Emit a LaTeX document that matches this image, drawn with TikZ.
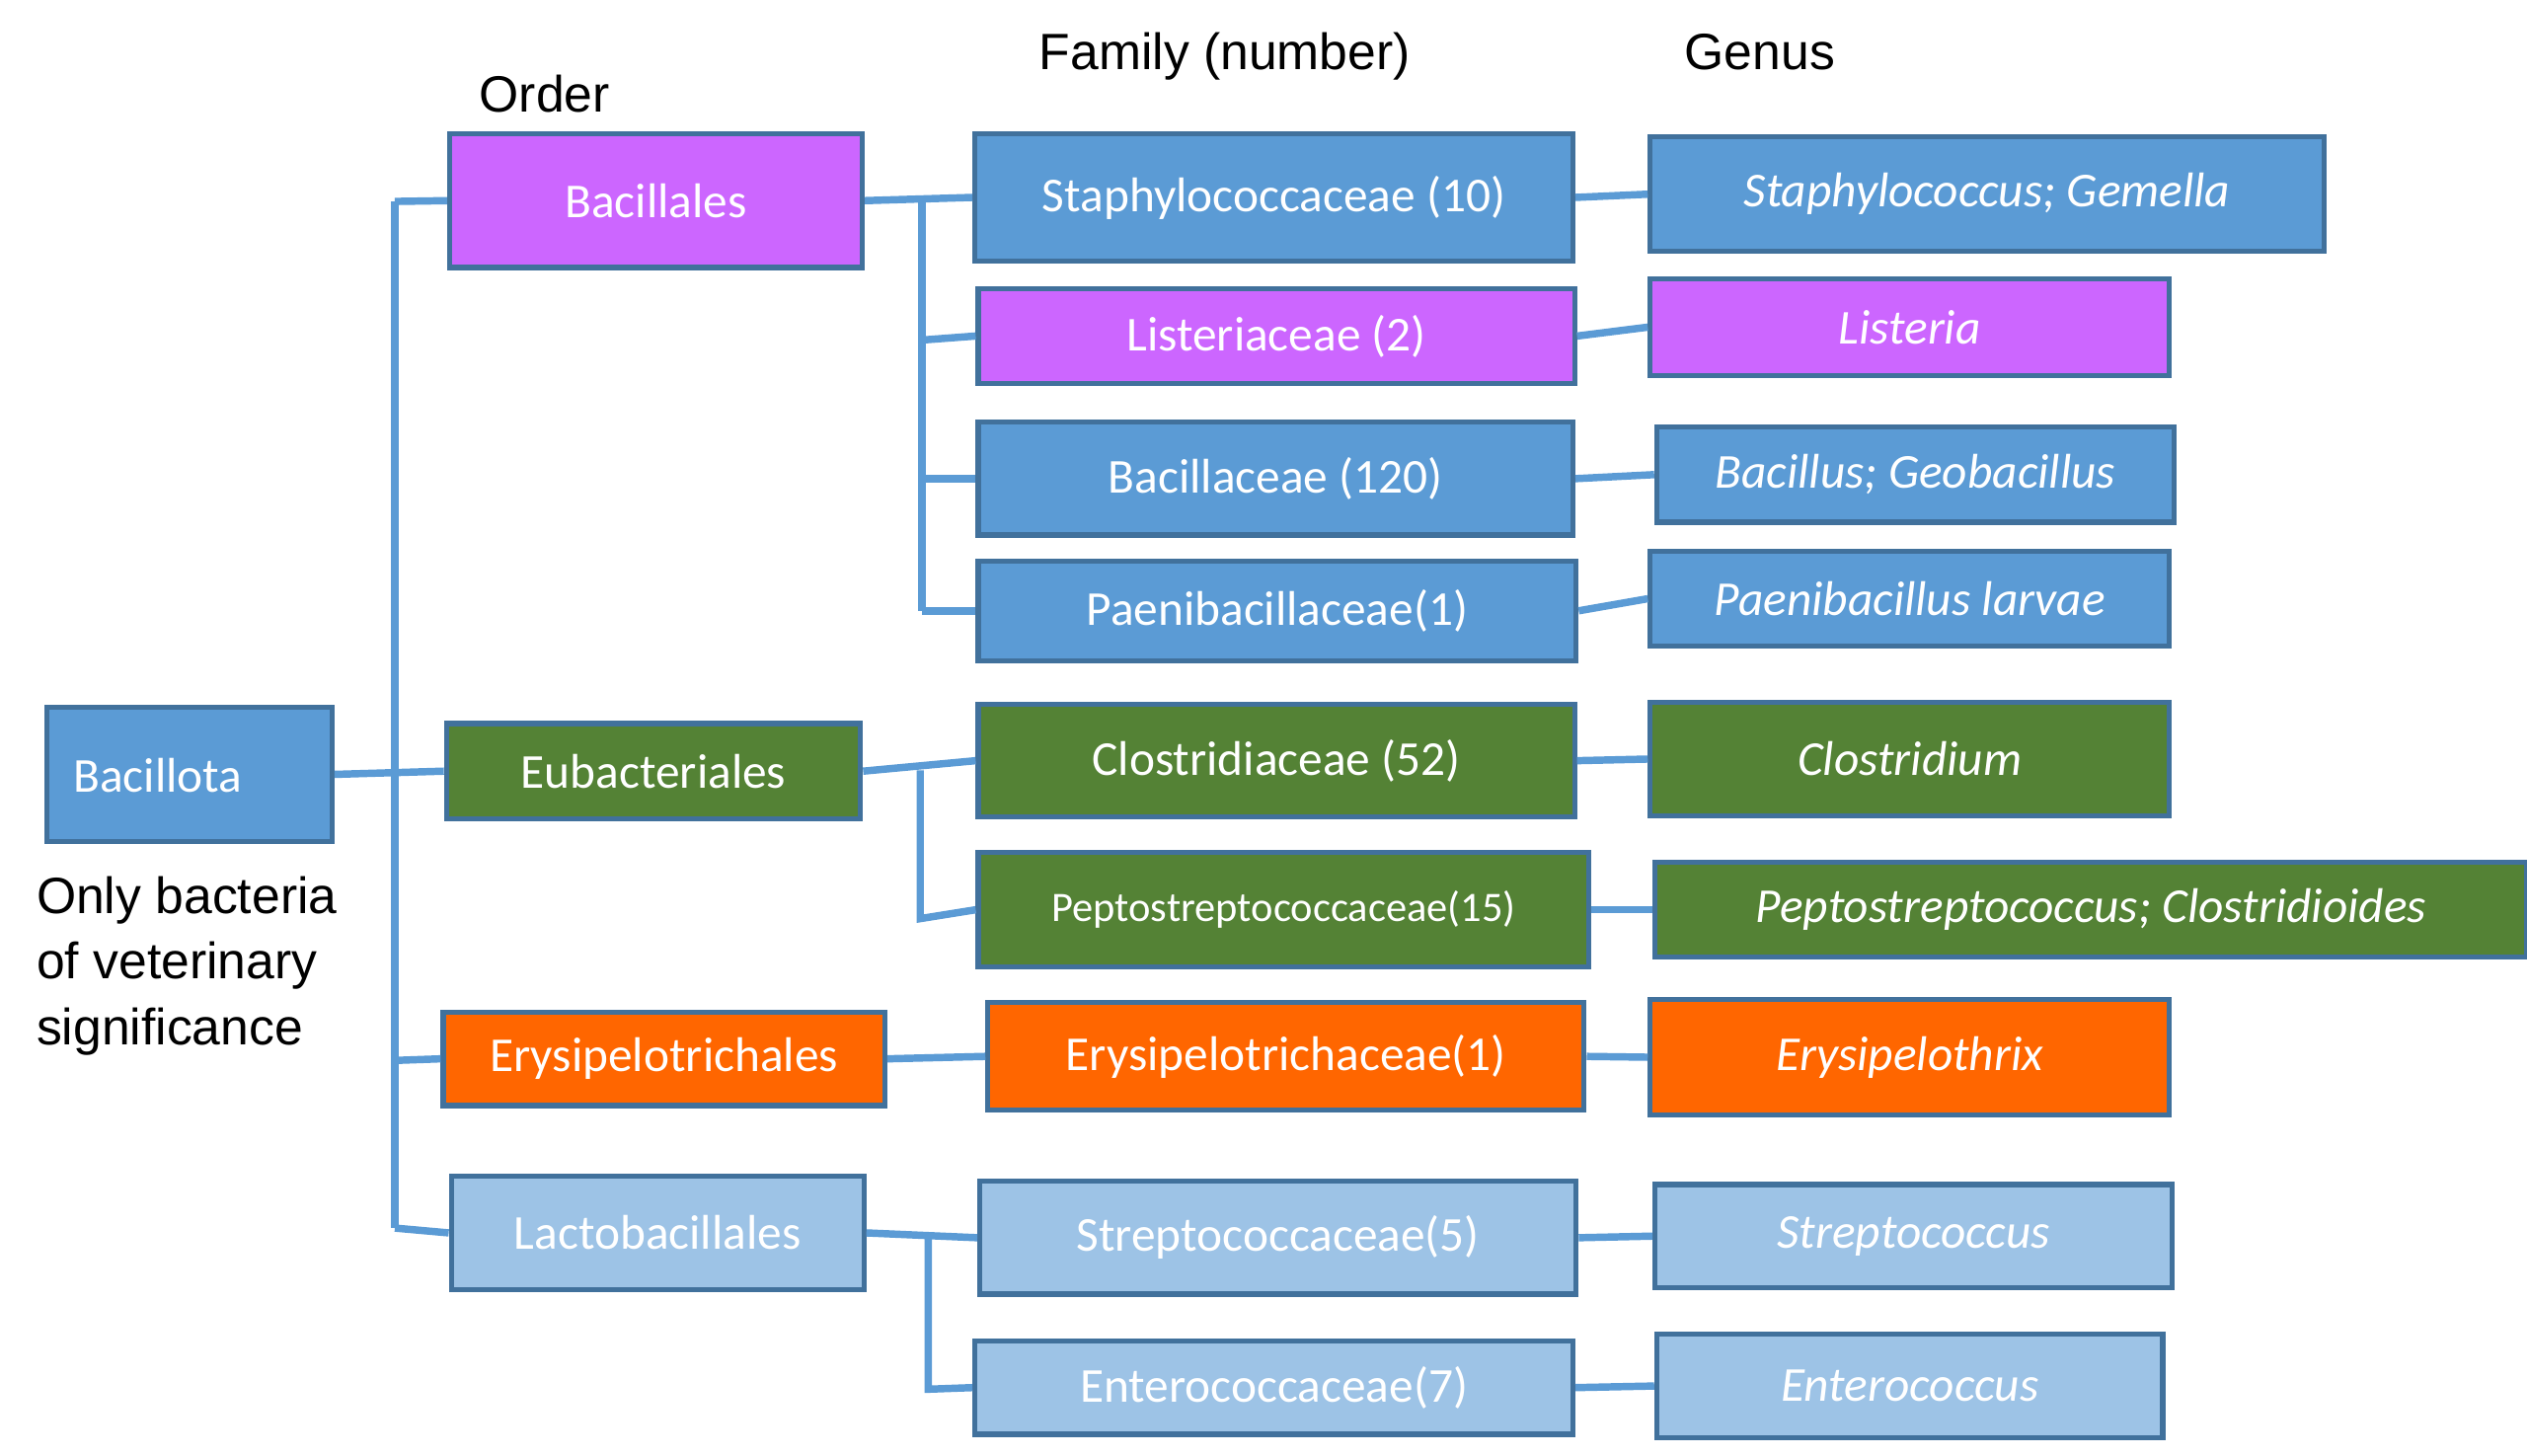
\documentclass[tikz,border=0pt]{standalone}
\usepackage{fontspec}
\setmainfont{Carlito}
\newfontfamily\arialf{Liberation Sans}
\definecolor{cblue}{HTML}{5B9BD5}
\definecolor{cbord}{HTML}{41719C}
\definecolor{cpurp}{HTML}{CC66FF}
\definecolor{cgreen}{HTML}{548235}
\definecolor{corange}{HTML}{FF6600}
\definecolor{clight}{HTML}{9DC3E6}
\begin{document}
\begin{tikzpicture}[x=0.01cm,y=-0.01cm,
  box/.style={draw=cbord,line width=0.9pt,text=white,inner sep=0pt,font=\fontsize{8.6}{10}\selectfont},
  gen/.style={box,font=\fontsize{8.6}{10}\selectfont\itshape},
  hdr/.style={font=\arialf\fontsize{9}{11}\selectfont,inner sep=0pt},
  con/.style={draw=cblue,line width=1.3pt}]
\useasboundingbox (0,0) rectangle (1568,903);
\newcommand{\bx}[7]{\node[#1,fill=#2,minimum width={(#5-#4)*0.01cm},minimum height={(#7-#6)*0.01cm}] (#3) at ({(#4+#5)/2},{(#6+#7)/2})}
% orders
\bx{box}{cblue}{bacillota}{29}{206}{439}{522} {};
\node[box,anchor=west,draw=none] at (44,481) {Bacillota};
\bx{box}{cpurp}{bacillales}{279}{535}{83}{166} {Bacillales};
\bx{box}{cgreen}{eubact}{277}{534}{449}{508} {Eubacteriales};
\bx{box}{corange}{erysord}{275}{549}{628}{686} {Erysipelotrichales};
\bx{box}{clight}{lacto}{280}{536}{730}{800} {Lactobacillales};
% families
\bx{box}{cblue}{staph}{605}{976}{83}{162} {Staphylococcaceae (10)};
\bx{box}{cpurp}{lister}{607}{977}{179}{238} {Listeriaceae (2)};
\bx{box}{cblue}{bacil}{607}{976}{262}{332} {Bacillaceae (120)};
\bx{box}{cblue}{paeni}{607}{978}{348}{410} {Paenibacillaceae(1)};
\bx{box}{cgreen}{clost}{607}{977}{437}{507} {Clostridiaceae (52)};
\bx{box,font=\fontsize{7.4}{9}\selectfont}{cgreen}{pepto}{607}{986}{529}{600} {Peptostreptococcaceae(15)};
\bx{box}{corange}{erysfam}{613}{983}{622}{689} {Erysipelotrichaceae(1)};
\bx{box}{clight}{strepto}{608}{978}{733}{803} {Streptococcaceae(5)};
\bx{box}{clight}{entero}{605}{976}{832}{890} {Enterococcaceae(7)};
% genera
\bx{gen}{cblue}{gstaph}{1024}{1442}{85}{156} {Staphylococcus; Gemella};
\bx{gen}{cpurp}{glist}{1024}{1346}{173}{233} {Listeria};
\bx{gen}{cblue}{gbac}{1028}{1349}{265}{324} {Bacillus; Geobacillus};
\bx{gen}{cblue}{gpaeni}{1024}{1346}{342}{401} {Paenibacillus larvae};
\bx{gen}{cgreen}{gclost}{1024}{1346}{436}{506} {Clostridium};
\bx{gen}{cgreen}{gpepto}{1027}{1568}{535}{594} {Peptostreptococcus; Clostridioides};
\bx{gen}{corange}{gerys}{1024}{1346}{620}{692} {Erysipelothrix};
\bx{gen}{clight}{gstrep}{1027}{1348}{735}{799} {Streptococcus};
\bx{gen}{clight}{gent}{1028}{1342}{828}{892} {Enterococcus};
% headers
\node[hdr] (hord) at (338,58) {Order};
\node[hdr] (hfam) at (760,35) {Family (number)};
\node[hdr] (hgen) at (1092,32) {Genus};
\node[hdr,anchor=north west,align=left,font=\arialf\fontsize{9}{11.6}\selectfont] (note) at (22,543) {Only bacteria\\of veterinary\\significance};
% trunk
\coordinate (t1) at (245,125); \coordinate (t4) at (245,762);
\coordinate (tb) at (245,481); \coordinate (te) at (245,658);
\draw[con] (t1) -- (t4);
\draw[con] (t1) -- (bacillales.west);
\draw[con] (bacillota.east) -- (eubact.west);
\draw[con] (te) -- (erysord.west);
\draw[con] (t4) -- (lacto.west);
% Bacillales
\coordinate (b1) at (572,123); \coordinate (b4) at (572,379);
\draw[con] (bacillales.east) -- (staph.west);
\draw[con] (b1) -- (b4);
\draw[con] (572,211) -- (lister.west);
\draw[con] (572,297) -- (bacil.west);
\draw[con] (b4) -- (paeni.west);
% Eubacteriales
\coordinate (e1) at (571,478); \coordinate (e2) at (571,570);
\draw[con] (eubact.east) -- (clost.west);
\draw[con] (e1) -- (e2) -- (pepto.west);
\draw[con] (erysord.east) -- (erysfam.west);
% Lacto
\coordinate (l1) at (576,768); \coordinate (l2) at (576,862);
\draw[con] (lacto.east) -- (strepto.west);
\draw[con] (l1) -- (l2) -- (entero.west);
% family -> genus
\foreach \a/\b in {staph/gstaph,lister/glist,bacil/gbac,paeni/gpaeni,clost/gclost,pepto/gpepto,erysfam/gerys,strepto/gstrep,entero/gent}
  \draw[con] (\a.east) -- (\b.west);
\end{tikzpicture}
\end{document}
